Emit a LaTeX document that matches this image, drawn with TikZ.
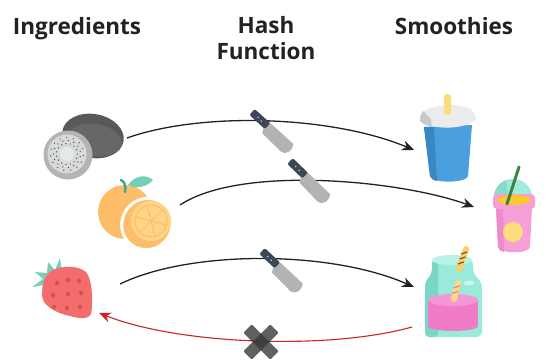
\documentclass[tikz,border=0pt]{standalone}
\usepackage{fontspec}
\setmainfont{Open Sans}
\usetikzlibrary{arrows.meta}
\usetikzlibrary{calc}
\definecolor{ink}{HTML}{222222}
\definecolor{undo}{HTML}{D0202A}
\definecolor{grip}{HTML}{3B4756}
\definecolor{steel}{HTML}{B3B3B3}
\definecolor{kiwiskin}{HTML}{585A5A}
\definecolor{kiwitop}{HTML}{666868}
\definecolor{kiwiring}{HTML}{B4B4B4}
\definecolor{kiwiflesh}{HTML}{D8DADA}
\definecolor{kiwicore}{HTML}{E6E9E9}
\definecolor{peel}{HTML}{FDBD69}
\definecolor{pulp}{HTML}{FDD585}
\definecolor{leaf}{HTML}{74D0B8}
\definecolor{stem}{HTML}{3AA59A}
\definecolor{berry}{HTML}{F26D6B}
\definecolor{pip}{HTML}{D9514E}
\definecolor{lid}{HTML}{ECECEC}
\definecolor{lidside}{HTML}{C9C9C9}
\definecolor{cupblue}{HTML}{4A9FDE}
\definecolor{cupshade}{HTML}{3A88C2}
\definecolor{straw}{HTML}{FBDD7B}
\definecolor{dome}{HTML}{A0EBDD}
\definecolor{domeshade}{HTML}{86DCC9}
\definecolor{pinkcup}{HTML}{F59ED8}
\definecolor{pinkshade}{HTML}{EE8CCB}
\definecolor{juice}{HTML}{FCC92C}
\definecolor{glass}{HTML}{9AEADB}
\definecolor{glassshade}{HTML}{7AD7C4}
\definecolor{glasstop}{HTML}{B8F2E7}
\definecolor{shake}{HTML}{F07CC8}
\definecolor{shaketop}{HTML}{F596D5}
\definecolor{stripe}{HTML}{8A5A2A}
\tikzset{
  title/.style = {font=\bfseries\fontsize{22.5}{26}\selectfont, text=ink, inner sep=0},
  link/.style = {draw=ink, line width=1.3pt, -{Stealth[length=12pt, width=10pt, inset=4pt]}},
  back/.style = {link, draw=undo, line width=1.1pt},
  cross/.style = {fill=black!78, opacity=0.8, rounded corners=1pt},
  knife/.pic = {
    \fill[steel] (19,-4) -- (52,-4) .. controls (56,1) and (55,9) .. (48,10) -- (22,9) -- (19,4) -- cycle;
    \fill[grip, rounded corners=2pt] (0,-4) rectangle (21,4);
    \fill[steel!60] (8,0) circle (0.9) (13,0.5) circle (0.9);
  }
}
\begin{document}
\begin{tikzpicture}[x=1pt, y=-1pt]
  \useasboundingbox (0,0) rectangle (555,361);

  % column heads
  \node[title, anchor=base] (ingredients) at (77,35) {Ingredients};
  \node[title, anchor=north, align=center] (hash) at (266,16) {Hash\\Function};
  \node[title, anchor=base] (smoothies) at (454,35) {Smoothies};

  % kiwi
  \fill[kiwiskin, rotate around={-10:(93,136)}] (93,136) ellipse (31 and 22);
  \fill[kiwitop, rotate around={-10:(95,140)}] (95,140) ellipse (27 and 16);
  \fill[kiwiring] (68,155) circle (24.5);
  \fill[kiwiflesh] (67,154) circle (19.5);
  \foreach \a in {0,24,...,336} {
    \fill[ink!80] (67,154) ++(\a:10.5) circle (0.7);
    \fill[ink!80] (67,154) ++(\a+12:13.5) circle (0.7);
    \fill[ink!80] (67,154) ++(\a+5:16.5) circle (0.7);
  }
  \fill[kiwicore] (67,154) circle (7);

  % orange
  \fill[peel] (125,212) circle (27);
  \draw[stem, line width=2.5pt, line cap=round] (125,192) .. controls (126,186) and (125,182) .. (121,180);
  \fill[leaf] (128,185) .. controls (135,175) and (146,174) .. (153,180) .. controls (146,188) and (135,189) .. (128,185) -- cycle;
  \filldraw[draw=white, line width=3pt, fill=peel, rotate around={-35:(147,224)}] (147,224) ellipse (25 and 26);
  \fill[pulp, rotate around={-35:(151,221)}] (151,221) ellipse (20 and 20);
  \draw[peel, line width=1pt, rotate around={-35:(151,221)}] (151,221) ellipse (16 and 16);
  \foreach \a in {0,60,...,300}
    \draw[peel, line width=1pt] (151,221) -- ++(\a+15:16);

  % strawberry
  \fill[leaf] (50,284) -- (32,287) -- (43,279) -- (35,272) -- (47,273) -- (48,262) -- (55,270) -- (60,258) -- (62,272) -- (70,272) -- cycle;
  \fill[berry] (45,278) .. controls (50,266) and (75,263) .. (86,272)
    .. controls (93,280) and (93,305) .. (91,314)
    .. controls (89,319) and (80,319) .. (70,316)
    .. controls (55,313) and (42,305) .. (42,295)
    .. controls (42,288) and (43,282) .. (45,278) -- cycle;
  \foreach \p in {(57,283),(68,280),(79,281),(53,295),(68,294),(81,293),(54,307),(67,308),(80,307)}
    \fill[pip] \p ellipse (2 and 2.6);

  % blue cup
  \fill[cupblue] (424,127) -- (472,125) -- (468,176) .. controls (467,183) and (432,184) .. (430,176) -- cycle;
  \fill[cupshade] (424,127) -- (434,127) -- (437,181) .. controls (433,180) and (431,179) .. (430,176) -- cycle;
  \fill[lid] (420,121) .. controls (420,115) and (423,111) .. (427,109)
    .. controls (440,104) and (458,104) .. (469,108)
    .. controls (473,110) and (476,115) .. (476,120)
    .. controls (462,130) and (434,130) .. (420,121) -- cycle;
  \fill[lidside] (420,121) .. controls (420,116) and (421,113) .. (423,111) -- (431,119) -- (432,127) .. controls (427,126) and (423,124) .. (420,121) -- cycle;
  \fill[straw, rounded corners=3pt] (444,94) rectangle (451,115);

  % pink cup
  \fill[dome] (494,197) arc[start angle=180, end angle=360, x radius=19, y radius=18];
  \fill[domeshade] (494,197) arc[start angle=180, end angle=250, x radius=19, y radius=18] -- (508,197) -- cycle;
  \fill[pinkcup] (496,207) -- (532,207) -- (530,247) .. controls (529,254) and (499,254) .. (498,247) -- cycle;
  \fill[pinkshade] (496,207) -- (503,207) -- (504,252) .. controls (501,251) and (498,250) .. (498,247) -- cycle;
  \fill[pinkcup, rounded corners=4pt] (493,194) rectangle (535,209);
  \fill[juice] (514,200) ellipse (17 and 5);
  \fill[straw] (513,232) circle (10);
  \draw[green!35!black!75, line width=3pt, line cap=round] (519,167) -- (507,204);

  % jar
  \fill[glass, rounded corners=6pt] (425,282) -- (432,274) -- (432,259) -- (473,259) -- (473,274) -- (482,282) -- (482,337) -- (425,337) -- cycle;
  \fill[glassshade, rounded corners=4pt] (425,282) -- (432,274) -- (432,259) -- (438,259) -- (438,337) -- (425,337) -- cycle;
  \fill[glasstop] (452,260) ellipse (20 and 5);
  \fill[shake] (428,300) rectangle (478,326);
  \fill[shake] (453,326) ellipse (25 and 5);
  \fill[shaketop] (453,300) ellipse (25 and 6);
  \fill[white!50!glass] (469,283) ellipse (5 and 2.5);
  \draw[straw!85!orange, line width=6pt, line cap=round] (466,249) -- (459,269);
  \foreach \t in {0.25,0.5,0.75}
    \draw[stripe, line width=1.3pt] ($(466,249)!\t!(459,269)$) ++(-3,0) -- ++(6,-2);
  \draw[straw, line width=6pt, line cap=round] (458,283) -- (454,299);
  \foreach \t in {0.3,0.65}
    \draw[shake, line width=1.3pt] ($(458,283)!\t!(454,299)$) ++(-3,0) -- ++(6,-2);

  % hashing one way
  \coordinate (kiwi) at (127,138);
  \coordinate (orange) at (180,205);
  \coordinate (berry) at (120,284);
  \coordinate (back) at (99,313);
  \coordinate (cup) at (414,150);
  \coordinate (dome) at (474,207);
  \coordinate (jar) at (414,287);
  \coordinate (jarside) at (412,327);
  \draw[link] (kiwi) .. controls +(73,-26) and +(-84,-35) .. (cup);
  \draw[link] (orange) .. controls +(60,-40) and +(-74,-27) .. (dome);
  \draw[link] (berry) .. controls +(70,-34) and +(-84,-37) .. (jar);
  \draw[back] (jarside) .. controls +(-82,23) and +(81,32) .. (back);

  \pic[rotate=-42] at (252,112) {knife};
  \pic[rotate=-44] at (290,161) {knife};
  \pic[rotate=-43] at (262,251) {knife};

  % no way back
  \begin{scope}[shift={(261,342)}]
    \fill[cross, rotate=45] (-19,-6) rectangle (19,6);
    \fill[cross, rotate=-45] (-19,-6) rectangle (19,6);
  \end{scope}
\end{tikzpicture}
\end{document}
